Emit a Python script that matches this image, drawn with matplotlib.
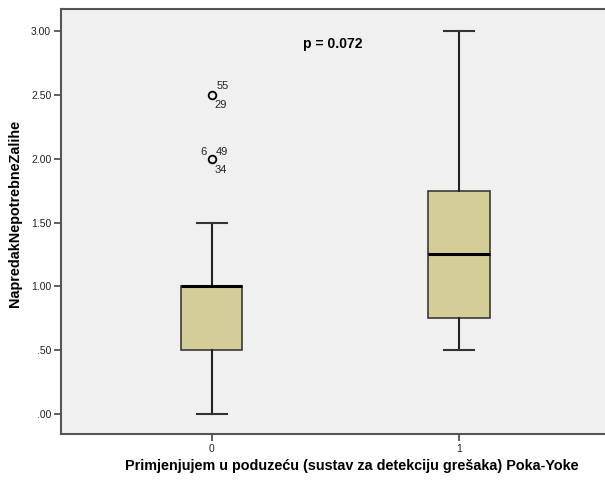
import matplotlib
matplotlib.use("Agg")
import matplotlib.pyplot as plt

plt.rcParams['font.family'] = ['Liberation Sans', 'DejaVu Sans']

groups = ["0", "1"]
whislo = [0.0, 0.5]
q1 = [0.5, 0.75]
med = [1.0, 1.25]
q3 = [1.0, 1.75]
whishi = [1.5, 3.0]
fliers = [[2.5, 2.0], []]
flier_labels = [("55", "29"), ("6", "49", "34")]
yticks = [0.0, 0.5, 1.0, 1.5, 2.0, 2.5, 3.0]
ytick_labels = [".00", ".50", "1.00", "1.50", "2.00", "2.50", "3.00"]
p_text = "p = 0.072"

fig = plt.figure(figsize=(6.05, 4.82), dpi=100)
ax = fig.add_axes([61/605, 48/482, 544/605, 425/482])
ax.set_facecolor('#F0F0F0')

stats = []
for i in range(len(groups)):
    stats.append(dict(whislo=whislo[i], q1=q1[i], med=med[i], q3=q3[i],
                      whishi=whishi[i], fliers=fliers[i]))

pos = list(range(len(groups)))
ax.bxp(stats, positions=pos, widths=0.247, patch_artist=True, showfliers=True,
       boxprops=dict(facecolor='#D3CE97', edgecolor='#3a3a3a', linewidth=1.2),
       medianprops=dict(color='black', linewidth=2.2),
       whiskerprops=dict(color='#222222', linewidth=1.5),
       capprops=dict(color='#333333', linewidth=1.5),
       capwidths=0.125,
       flierprops=dict(marker='o', markerfacecolor='none', markeredgecolor='black',
                       markersize=5.5, markeredgewidth=1.3))

# outlier labels
fs_lab = 8
ax.annotate(flier_labels[0][0], (0, fliers[0][0]), xytext=(3.5, 4), textcoords='offset points',
            fontsize=fs_lab, color='#222222')
ax.annotate(flier_labels[0][1], (0, fliers[0][0]), xytext=(2, -9.5), textcoords='offset points',
            fontsize=fs_lab, color='#222222')
ax.annotate(flier_labels[1][0], (0, fliers[0][1]), xytext=(-8.5, 3), textcoords='offset points',
            fontsize=fs_lab, color='#222222')
ax.annotate(flier_labels[1][1], (0, fliers[0][1]), xytext=(3, 3), textcoords='offset points',
            fontsize=fs_lab, color='#222222')
ax.annotate(flier_labels[1][2], (0, fliers[0][1]), xytext=(2, -10.5), textcoords='offset points',
            fontsize=fs_lab, color='#222222')

ax.text(0.49, 2.9, p_text, fontsize=10, fontweight='bold', ha='center', va='center')

ax.set_xlim(-0.611, 1.591)
ax.set_ylim(-0.157, 3.173)
ax.set_xticks(pos)
ax.set_xticklabels(groups, fontsize=7.5)
ax.set_yticks(yticks)
ax.set_yticklabels(ytick_labels, fontsize=7.5)
ax.tick_params(direction='out', length=5, width=1.2, color='#444444', labelcolor='#222222', pad=2)

for s in ['left', 'bottom', 'top']:
    ax.spines[s].set_color('#555555')
    ax.spines[s].set_linewidth(1.5)
ax.spines['right'].set_visible(False)

ax.set_ylabel("NapredakNepotrebneZalihe", fontsize=10.4, fontweight='bold')
ax.set_xlabel("Primjenjujem u poduzeću (sustav za detekciju grešaka) Poka-Yoke",
              fontsize=10.4, fontweight='bold')
ax.xaxis.set_label_coords(0.535, -0.075)
ax.xaxis.label.set_va('center')
ax.yaxis.set_label_coords(-0.0846, 0.518)
ax.yaxis.label.set_va('center')

fig.savefig("out.png", dpi=100)
